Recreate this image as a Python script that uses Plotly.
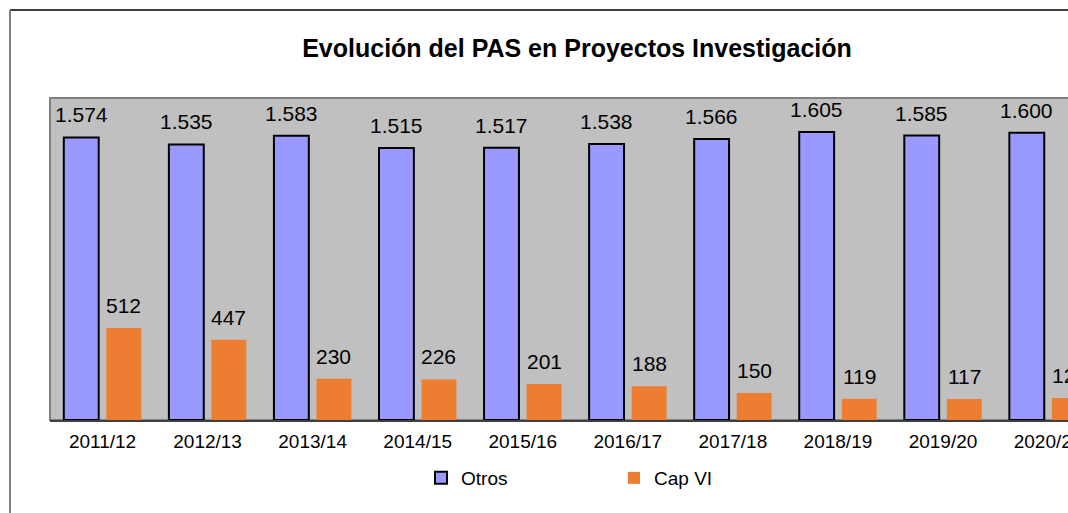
import plotly.graph_objects as go

categories = ["2011/12", "2012/13", "2013/14", "2014/15", "2015/16",
              "2016/17", "2017/18", "2018/19", "2019/20", "2020/21"]
otros = [1574, 1535, 1583, 1515, 1517, 1538, 1566, 1605, 1585, 1600]
cap_vi = [512, 447, 230, 226, 201, 188, 150, 119, 117, 122]

FONT = "Liberation Sans, Arial, sans-serif"
W, H = 1068, 513
L, T = 50, 98
PLOT_BOTTOM = 420
B = H - PLOT_BOTTOM
PW, PH = W - L, H - T - B

fig = go.Figure()
fig.add_trace(go.Bar(name="Otros", x=categories, y=otros,
                     marker=dict(color="#9999FF", line=dict(color="#000000", width=2))))
fig.add_trace(go.Bar(name="Cap VI", x=categories, y=cap_vi,
                     marker=dict(color="#ED7D31", line=dict(width=0))))

def fmt(v):
    return f"{v:,}".replace(",", ".")

for series, shift in ((otros, -21.25), (cap_vi, 21.25)):
    for c, v in zip(categories, series):
        fig.add_annotation(x=c, y=v, text=fmt(v), showarrow=False,
                           xshift=shift, yshift=9, yanchor="bottom",
                           font=dict(family=FONT, size=21, color="#000000"))

# convert pixel position to paper coords
def px_x(p):
    return (p - L) / PW

def px_y(p):
    return (PLOT_BOTTOM - p) / PH

# chart area border (top black, left gray)
fig.add_shape(type="line", xref="paper", yref="paper",
              x0=px_x(10), x1=px_x(1120), y0=px_y(10), y1=px_y(10),
              line=dict(color="#000000", width=1.5))
fig.add_shape(type="line", xref="paper", yref="paper",
              x0=px_x(10), x1=px_x(10), y0=px_y(10), y1=px_y(530),
              line=dict(color="#808080", width=2))
# plot area border
fig.add_shape(type="rect", xref="paper", yref="paper", x0=0, x1=1.05, y0=0, y1=1,
              line=dict(color="#808080", width=2), layer="below")

fig.update_layout(
    width=W, height=H,
    margin=dict(l=L, r=0, t=T, b=B, pad=0, autoexpand=False),
    paper_bgcolor="#FFFFFF", plot_bgcolor="#C0C0C0",
    barmode="group", bargap=0.19, bargroupgap=0.18,
    separators=",.",
    title=dict(text="<b>Evolución del PAS en Proyectos Investigación</b>",
               x=577 / W, xref="container", xanchor="center",
               y=1 - 48 / H, yref="container", yanchor="middle",
               font=dict(family=FONT, size=25, color="#000000")),
    font=dict(family=FONT, color="#000000"),
    showlegend=True,
    legend=dict(orientation="h", x=px_x(421), y=px_y(478), xanchor="left", yanchor="middle",
                xref="paper", yref="paper",
                entrywidth=148, entrywidthmode="pixels",
                font=dict(family=FONT, size=19, color="#000000"),
                bgcolor="rgba(0,0,0,0)", itemwidth=30),
    xaxis=dict(range=[-0.5, -0.5 + PW / 105.06], showgrid=False, showline=True,
               linecolor="#404040", linewidth=1.5, ticks="", fixedrange=True,
               automargin=False, ticklabelstandoff=3,
               tickfont=dict(family=FONT, size=19, color="#000000")),
    yaxis=dict(range=[0, 1794], showgrid=False, showticklabels=False, zeroline=False,
               showline=False, ticks="", fixedrange=True, automargin=False),
)

fig.write_html("out.html", config={"displayModeBar": False},
               post_script="document.body.style.margin='0';document.body.style.overflow='hidden';")
